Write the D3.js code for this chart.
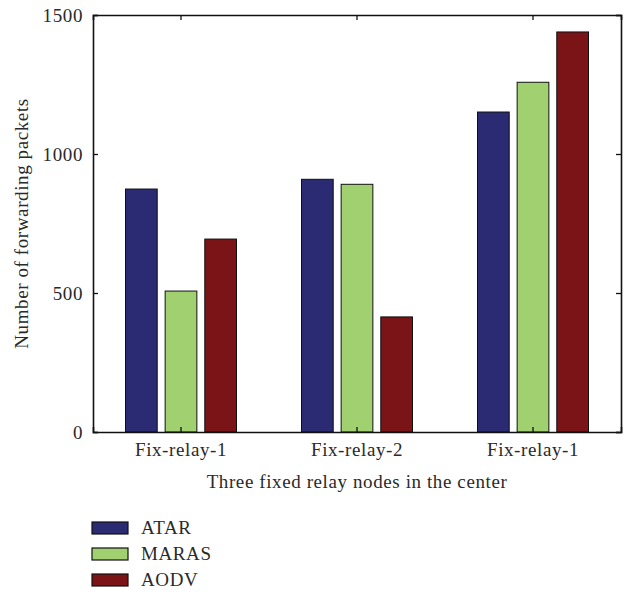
<!DOCTYPE html>
<html>
<head>
<meta charset="utf-8">
<script src="https://cdn.jsdelivr.net/npm/d3@7"></script>
<style>
  body { margin: 0; background: #fff; }
  text { font-family: "Liberation Serif", "Times New Roman", serif; fill: #2a2a2a; letter-spacing: 0.6px; }
</style>
</head>
<body>
<svg></svg>
<script>
const categories = ["Fix-relay-1", "Fix-relay-2", "Fix-relay-1"];
const seriesNames = ["ATAR", "MARAS", "AODV"];
const atar = [874, 909, 1151];
const maras = [507, 891, 1258];
const aodv = [694, 414, 1439];
const yTicks = [0, 500, 1000, 1500];
const colors = ["#2a2b73", "#a0d070", "#7a1417"];

const values = [atar, maras, aodv];

const svgWidth = 628;
const svgHeight = 593;
const margin = { top: 15, right: 7, bottom: 161, left: 93 };
const width = svgWidth - margin.left - margin.right;
const height = svgHeight - margin.top - margin.bottom;

const svg = d3.select('svg')
  .attr('width', svgWidth)
  .attr('height', svgHeight);

const g = svg.append('g')
  .attr('transform', 'translate(' + margin.left + ',' + margin.top + ')');

const x0 = d3.scaleBand()
  .domain(d3.range(categories.length))
  .range([0, width]);

const x1 = d3.scaleBand()
  .domain(seriesNames)
  .range([x0.bandwidth() / 2 - 55.5, x0.bandwidth() / 2 + 55.5])
  .paddingInner(0.2);

const y = d3.scaleLinear()
  .domain([0, 1500])
  .range([height, 0]);

// bars
const groups = g.selectAll('.grp')
  .data(categories)
  .join('g')
  .attr('transform', (d, i) => 'translate(' + x0(i) + ',0)');

groups.selectAll('rect')
  .data((d, i) => seriesNames.map((s, j) => ({ s: s, j: j, v: values[j][i] })))
  .join('rect')
  .attr('x', (d) => x1(d.s))
  .attr('y', (d) => y(d.v))
  .attr('width', x1.bandwidth())
  .attr('height', (d) => y(0) - y(d.v))
  .attr('fill', (d) => colors[d.j])
  .attr('stroke', '#111')
  .attr('stroke-width', 1);

// axes (ticks point inward, box frame)
const fontSize = '19px';

const leftAxis = g.append('g')
  .call(d3.axisLeft(y).tickValues(yTicks).tickSize(-5).tickPadding(10).tickFormat(d3.format('d')));
leftAxis.selectAll('text').style('font-size', fontSize);

const rightAxis = g.append('g')
  .attr('transform', 'translate(' + width + ',0)')
  .call(d3.axisRight(y).tickValues(yTicks).tickSize(-5).tickFormat(''));

const bottomAxis = g.append('g')
  .attr('transform', 'translate(0,' + height + ')')
  .call(d3.axisBottom(x0).tickSize(-5).tickPadding(11).tickFormat((i) => categories[i]));
bottomAxis.selectAll('text').style('font-size', fontSize);

const topAxis = g.append('g')
  .call(d3.axisTop(x0).tickSize(-5).tickFormat(''));

[leftAxis, rightAxis, bottomAxis, topAxis].forEach((a) => {
  a.select('.domain').attr('stroke', '#111').attr('stroke-width', 1.6);
  a.selectAll('.tick line').attr('stroke', '#111').attr('stroke-width', 1.3);
});

// axis titles
g.append('text')
  .attr('x', width / 2)
  .attr('y', height + 56)
  .attr('text-anchor', 'middle')
  .style('font-size', fontSize)
  .text('Three fixed relay nodes in the center');

g.append('text')
  .attr('transform', 'rotate(-90)')
  .attr('x', -height / 2)
  .attr('y', -65)
  .attr('text-anchor', 'middle')
  .style('font-size', fontSize)
  .text('Number of forwarding packets');

// legend
const legend = svg.append('g')
  .attr('transform', 'translate(92,522)');

const item = legend.selectAll('g')
  .data(seriesNames)
  .join('g')
  .attr('transform', (d, i) => 'translate(0,' + i * 26 + ')');

item.append('rect')
  .attr('width', 36)
  .attr('height', 12)
  .attr('fill', (d, i) => colors[i])
  .attr('stroke', '#111')
  .attr('stroke-width', 1.2);

item.append('text')
  .attr('x', 49)
  .attr('y', 12)
  .style('font-size', fontSize)
  .text((d) => d);
</script>
</body>
</html>
